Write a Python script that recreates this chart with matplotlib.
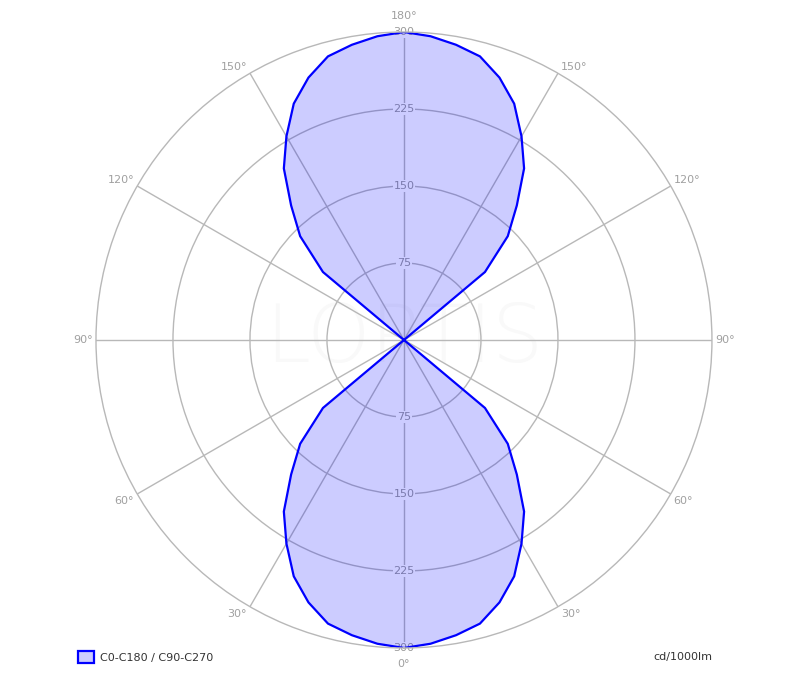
import numpy as np
import matplotlib.pyplot as plt

# Luminous intensity (cd/1000lm) vs gamma angle, same for both C-plane pairs
gamma = np.array([0, 5, 10, 15, 20, 25, 30, 35, 40, 45, 50, 55, 60, 65, 70, 75, 80, 85, 90,
                  95, 100, 105, 110, 115, 120, 125, 130, 135, 140, 145, 150, 155, 160, 165,
                  170, 175, 180])
intensity = np.array([300, 297, 292, 286, 272, 254, 229, 204, 171, 143, 103, 0, 0, 0, 0, 0, 0, 0, 0,
                      0, 0, 0, 0, 0, 0, 0, 103, 143, 171, 204, 229, 254, 272, 286,
                      292, 297, 300])
ring_values = [75, 150, 225, 300]
angle_ticks = [0, 30, 60, 90, 120, 150, 180, 210, 240, 270, 300, 330]
series_label = 'C0-C180 / C90-C270'
unit_label = 'cd/1000lm'

# mirror the curve onto the other half of the diagram
theta = np.deg2rad(np.concatenate([gamma, 360 - gamma[::-1]]))
r = np.concatenate([intensity, intensity[::-1]])

fig = plt.figure(figsize=(7.88, 7.0), dpi=100)
ax = fig.add_axes([0.1218, 0.0743, 0.7817, 0.88], projection='polar')
ax.set_theta_zero_location('S')
ax.set_ylim(0, 300)
ax.set_yticks(ring_values[:-1])
ax.set_yticklabels([])
ax.set_xticks(np.deg2rad(angle_ticks))
ax.set_xticklabels([])
ax.tick_params(length=0)
ax.set_axisbelow(True)
ax.grid(color='#b8b8b8', lw=1)
ax.spines['polar'].set_color('#b8b8b8')
ax.spines['polar'].set_linewidth(1)

# faint watermark
ax.text(0, 0, 'LOPTIS', ha='center', va='center', fontsize=58, color='#f9f9f9',
        fontweight='light', zorder=0.3)

# angle labels around the outside, placed just beyond the spoke ends
for a in angle_ticks:
    lab = a if a <= 180 else 360 - a
    if a in (0, 180):
        ha, dx = 'center', 0
    elif a < 180:
        ha, dx = 'left', 3
    else:
        ha, dx = 'right', -3
    if a == 180:
        dy = 16
    elif a == 0:
        dy = -16
    elif a in (90, 270):
        dy = 0
    elif 90 < a < 270:
        dy = 6
    else:
        dy = -7
    ax.annotate(f'{lab}°', xy=(np.deg2rad(a), 300), xytext=(dx, dy),
                textcoords='offset pixels', ha=ha, va='center', fontsize=8,
                color='#a0a0a0', annotation_clip=False)

# ring labels on the vertical axis, top and bottom
for v in ring_values:
    for a in (0, 180):
        ax.text(np.deg2rad(a), v, str(v), ha='center', va='center', fontsize=8,
                color='#999999', zorder=0.8, clip_on=False,
                bbox=dict(facecolor='white', edgecolor='none', pad=0.6))

poly = ax.fill(theta, r, facecolor=(0, 0, 1, 0.2), edgecolor='#0000ff', lw=1.6,
               zorder=2, label=series_label)

fig.legend(handles=poly, loc='center left', bbox_to_anchor=(78 / 788, 1 - 657 / 700),
           frameon=False, fontsize=8, handlelength=1.4, handleheight=1.4,
           handletextpad=0.6, borderpad=0, borderaxespad=0, labelcolor='#333333')
fig.text(712 / 788, 1 - 657 / 700, unit_label, ha='right', va='center', fontsize=8,
         color='#333333')

fig.savefig('out.png', dpi=100)
